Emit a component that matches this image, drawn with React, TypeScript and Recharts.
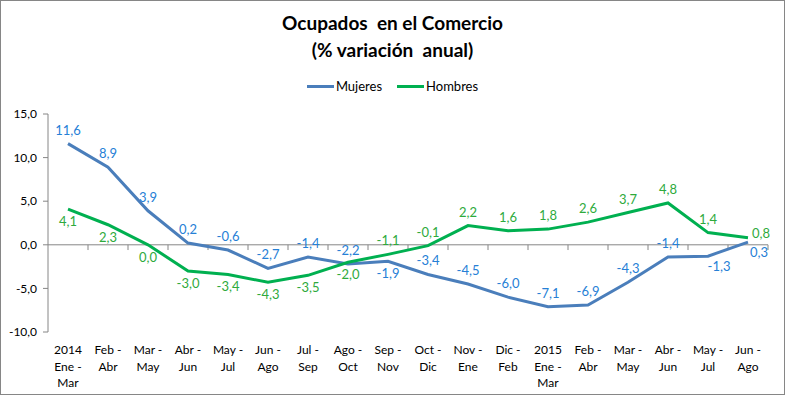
import React from 'react';
import { LineChart, Line, XAxis, YAxis, ReferenceLine, LabelList } from 'recharts';

const categories = [
  '2014\nEne -\nMar', 'Feb -\nAbr', 'Mar -\nMay', 'Abr -\nJun', 'May -\nJul', 'Jun -\nAgo',
  'Jul -\nSep', 'Ago -\nOct', 'Sep -\nNov', 'Oct -\nDic', 'Nov -\nEne', 'Dic -\nFeb',
  '2015\nEne -\nMar', 'Feb -\nAbr', 'Mar -\nMay', 'Abr -\nJun', 'May -\nJul', 'Jun -\nAgo',
];
const mujeres = [11.6, 8.9, 3.9, 0.2, -0.6, -2.7, -1.4, -2.2, -1.9, -3.4, -4.5, -6.0, -7.1, -6.9, -4.3, -1.4, -1.3, 0.3];
const hombres = [4.1, 2.3, 0.0, -3.0, -3.4, -4.3, -3.5, -2.0, -1.1, -0.1, 2.2, 1.6, 1.8, 2.6, 3.7, 4.8, 1.4, 0.8];
const yTicks = [-10, -5, 0, 5, 10, 15];

// label placement per point (style, kept apart from the data)
const mujeresPlace = ['a', 'a', 'a', 'a', 'a', 'a', 'a', 'a', 'b', 'a', 'a', 'a', 'a', 'a', 'a', 'a', 'br', 'br'];
const hombresPlace = ['b', 'b', 'b', 'b', 'b', 'b', 'b', 'b', 'a', 'a', 'a', 'a', 'a', 'a', 'a', 'a', 'a', 'r'];

const data = categories.map((c, i) => ({ x: i + 0.5, cat: c, mujeres: mujeres[i], hombres: hombres[i] }));
const centers = data.map((d) => d.x);
const boundaries = categories.map((_, i) => i + 1);

const FONT = 'Lato, "Open Sans", sans-serif';
const BLUE = '#4A7EBB';
const GREEN = '#00B050';
const BLUE_TXT = '#2680D6';
const GREEN_TXT = '#2EAA3C';
const AXIS = '#868686';

const fmt = (v: number) => v.toFixed(1).replace('.', ',');

const offsets: Record<string, [number, number]> = {
  a: [0, -14],
  b: [0, 12],
  br: [11, 10],
  r: [13, -5],
};

const makeLabel = (place: string[], color: string) => (props: any) => {
  const { x, y, value, index } = props;
  const [dx, dy] = offsets[place[index]] || [0, -14];
  return (
    <text
      x={x + dx}
      y={y + dy}
      textAnchor="middle"
      dominantBaseline="central"
      fill={color}
      fontSize={13}
      fontFamily={FONT}
    >
      {fmt(value)}
    </text>
  );
};

const XTick = (props: any) => {
  const { x, y, payload } = props;
  const idx = Math.round(payload.value - 0.5);
  const lines = (categories[idx] || '').split('\n');
  return (
    <text textAnchor="middle" fill="#000" fontSize={12} fontFamily={FONT}>
      {lines.map((l, i) => (
        <tspan key={i} x={x} y={y + 22 + i * 16.5}>
          {l}
        </tspan>
      ))}
    </text>
  );
};

export default function App() {
  return (
    <div
      style={{
        position: 'absolute',
        top: 0,
        left: 0,
        width: 785,
        height: 395,
        border: `1px solid ${AXIS}`,
        boxSizing: 'border-box',
        background: '#fff',
        fontFamily: FONT,
      }}
    >
      <div
        style={{
          position: 'absolute',
          top: 8,
          left: 0,
          width: 783,
          textAlign: 'center',
          fontWeight: 700,
          fontSize: 19,
          lineHeight: '27px',
          whiteSpace: 'pre',
          color: '#000',
        }}
      >
        {'Ocupados  en el Comercio\n(% variación  anual)'}
      </div>
      <div
        style={{
          position: 'absolute',
          top: 76,
          left: 0,
          width: 783,
          display: 'flex',
          justifyContent: 'center',
          alignItems: 'center',
          fontSize: 13,
          color: '#000',
          height: 18,
        }}
      >
        <span style={{ display: 'inline-block', width: 27, height: 3, background: BLUE, marginRight: 2 }} />
        <span style={{ marginRight: 15 }}>Mujeres</span>
        <span style={{ display: 'inline-block', width: 27, height: 3, background: GREEN, marginRight: 2 }} />
        <span>Hombres</span>
      </div>
      <div style={{ position: 'absolute', top: -1, left: -1 }}>
        <LineChart width={785} height={395} data={data} margin={{ top: 114, right: 17, bottom: 8, left: 8 }}>
          <XAxis
            type="number"
            dataKey="x"
            domain={[0, 18]}
            ticks={centers}
            interval={0}
            tick={<XTick />}
            tickLine={false}
            axisLine={false}
            tickSize={0}
            tickMargin={0}
            height={55}
          />
          <YAxis
            type="number"
            domain={[-10, 15]}
            ticks={yTicks}
            interval={0}
            tickFormatter={fmt}
            width={40}
            axisLine={{ stroke: AXIS }}
            tickLine={{ stroke: AXIS }}
            tickSize={5}
            tickMargin={6}
            tick={{ fill: '#000', fontSize: 12, fontFamily: FONT }}
          />
          <ReferenceLine y={0} stroke={AXIS} />
          {boundaries.map((b) => (
            <ReferenceLine
              key={b}
              segment={[
                { x: b, y: 0 },
                { x: b, y: -0.6 },
              ]}
              stroke={AXIS}
            />
          ))}
          <Line
            type="linear"
            dataKey="mujeres"
            stroke={BLUE}
            strokeWidth={3}
            dot={false}
            isAnimationActive={false}
          >
            <LabelList dataKey="mujeres" content={makeLabel(mujeresPlace, BLUE_TXT)} />
          </Line>
          <Line
            type="linear"
            dataKey="hombres"
            stroke={GREEN}
            strokeWidth={3}
            dot={false}
            isAnimationActive={false}
          >
            <LabelList dataKey="hombres" content={makeLabel(hombresPlace, GREEN_TXT)} />
          </Line>
        </LineChart>
      </div>
    </div>
  );
}
